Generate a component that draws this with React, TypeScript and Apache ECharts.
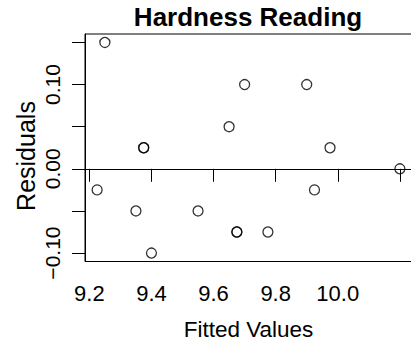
import React, { useEffect, useRef } from "react";
import * as echarts from "echarts";

const fittedValues = [9.25, 9.375, 9.375, 9.65, 9.7, 9.9, 9.975, 10.2, 9.225, 9.35, 9.4, 9.55, 9.675, 9.675, 9.775, 9.925];
const residuals = [0.15, 0.025, 0.025, 0.05, 0.1, 0.1, 0.025, 0.0, -0.025, -0.05, -0.1, -0.05, -0.075, -0.075, -0.075, -0.025];
const xTicks = [9.2, 9.4, 9.6, 9.8, 10.0, 10.2];
const xLabels = [9.2, 9.4, 9.6, 9.8, 10.0];
const yTicks = [-0.1, -0.05, 0, 0.05, 0.1, 0.15];
const yLabels = [-0.1, 0, 0.1];

const FONT = "Liberation Sans, Arial, Helvetica, sans-serif";

export default function App() {
  const ref = useRef<HTMLDivElement>(null);
  useEffect(() => {
    document.body.style.margin = "0";
    const chart = echarts.init(ref.current!, null, { renderer: "svg" });
    const data = fittedValues.map((x, i) => [x, residuals[i]]);
    chart.setOption({
      animation: false,
      backgroundColor: "#fff",
      textStyle: { fontFamily: FONT },
      grid: {
        left: 85,
        top: 34,
        width: 327,
        height: 227.5,
        show: true,
        borderColor: "#000",
        borderWidth: 1,
        backgroundColor: "transparent",
        containLabel: false,
        outerBoundsMode: "none",
      },
      graphic: [
        {
          type: "text",
          x: 248,
          y: 17,
          style: { text: "Hardness Reading", font: `bold 26px ${FONT}`, fill: "#000", align: "center", verticalAlign: "middle" },
        },
        {
          type: "text",
          x: 26,
          y: 156,
          rotation: Math.PI / 2,
          style: { text: "Residuals", font: `25px ${FONT}`, fill: "#000", align: "center", verticalAlign: "middle" },
        },
      ],
      xAxis: {
        type: "value",
        min: 9.186,
        max: 10.239,
        name: "Fitted Values",
        nameLocation: "middle",
        nameGap: 56,
        nameTextStyle: { fontSize: 22.5, color: "#000", fontFamily: FONT },
        axisLine: { show: true, lineStyle: { color: "#000", width: 1 } },
        axisTick: { show: true, length: 13, lineStyle: { color: "#000", width: 1 }, customValues: xTicks },
        axisLabel: {
          fontSize: 22,
          color: "#000",
          fontFamily: FONT,
          margin: 21,
          customValues: xLabels,
          formatter: (v: number) => v.toFixed(1),
        },
        splitLine: { show: false },
      },
      yAxis: {
        type: "value",
        min: -0.11,
        max: 0.16,
        axisLine: { show: true, lineStyle: { color: "#000", width: 1 } },
        axisTick: { show: true, length: 13, lineStyle: { color: "#000", width: 1 }, customValues: yTicks },
        axisLabel: {
          fontSize: 21,
          color: "#000",
          fontFamily: FONT,
          margin: 22,
          rotate: 90,
          customValues: yLabels,
          formatter: (v: number) => (v < 0 ? "\u2212" + Math.abs(v).toFixed(2) : v.toFixed(2)),
        },
        splitLine: { show: false },
      },
      series: [
        {
          type: "scatter",
          data,
          symbol: "circle",
          symbolSize: 10,
          itemStyle: { color: "transparent", borderColor: "#000", borderWidth: 1.3 },
          markLine: {
            silent: true,
            symbol: "none",
            label: { show: false },
            lineStyle: { color: "#000", width: 1, type: "solid" },
            data: [{ yAxis: 0 }],
          },
        },
      ],
    });
    return () => chart.dispose();
  }, []);
  return <div ref={ref} style={{ width: 411, height: 340, position: "fixed", left: 0, top: 0 }} />;
}
